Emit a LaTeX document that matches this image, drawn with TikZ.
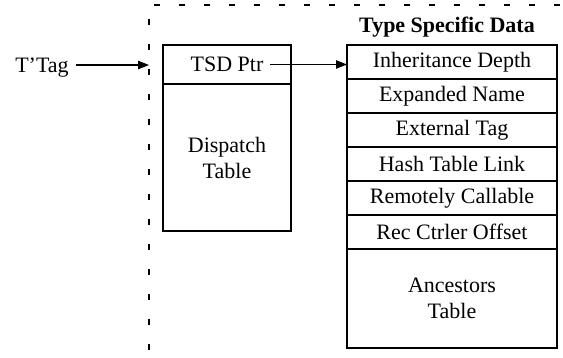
\documentclass[tikz,border=0pt]{standalone}
\usepackage{fontspec}
\setmainfont{Liberation Serif}
\usetikzlibrary{positioning, arrows.meta}

\begin{document}
\begin{tikzpicture}[
    x=0.5pt, y=-0.5pt,
    node distance=0pt,
    every node/.style={font=\fontsize{11}{13}\selectfont},
    cell/.style={draw, line width=0.8pt, outer sep=0pt, inner sep=0pt,
                 minimum width=105pt, minimum height=17pt, align=center},
    arrow/.style={-{Triangle[length=5.5pt, width=4.2pt]}, line width=0.6pt},
    boundary/.style={line width=0.7pt, dash pattern=on 3pt off 9.5pt},
]
\useasboundingbox (0,0) rectangle (563,358);

% dashed boundary
\coordinate (dtop) at (149,5);
\coordinate (dbot) at (149,350);
\coordinate (dend) at (563,5);
\draw[boundary] (dbot) -- (dtop) -- (dend);

% tag and dispatch table
\node[text depth=0pt] (tag) at (42,65) {T'Tag};
\node[cell, minimum width=64pt, minimum height=19.5pt, anchor=north west] (ptrbox) at (163,45) {};
\node (ptr) at (ptrbox) {TSD Ptr};
\node[cell, minimum width=64pt, minimum height=73.5pt, below=of ptrbox] (dispatch) {Dispatch\\Table};

% type specific data
\node[cell, anchor=north west] (inh) at (347,45) {Inheritance Depth};
\node[cell, below=of inh] (expname) {Expanded Name};
\node[cell, below=of expname] (exttag) {External Tag};
\node[cell, below=of exttag] (hashlink) {Hash Table Link};
\node[cell, below=of hashlink] (remote) {Remotely Callable};
\node[cell, below=of remote] (rcoff) {Rec Ctrler Offset};
\node[cell, below=of rcoff, minimum height=49.5pt] (anc) {Ancestors\\Table};
\node[above=0.5pt of inh, xshift=-2.5pt, font=\fontsize{11}{13}\selectfont\bfseries] (tsd) {Type Specific Data};

\draw[arrow] (tag) -- (tag -| dtop);
\draw[arrow] (ptr) -- (ptr -| inh.west);
\end{tikzpicture}
\end{document}
